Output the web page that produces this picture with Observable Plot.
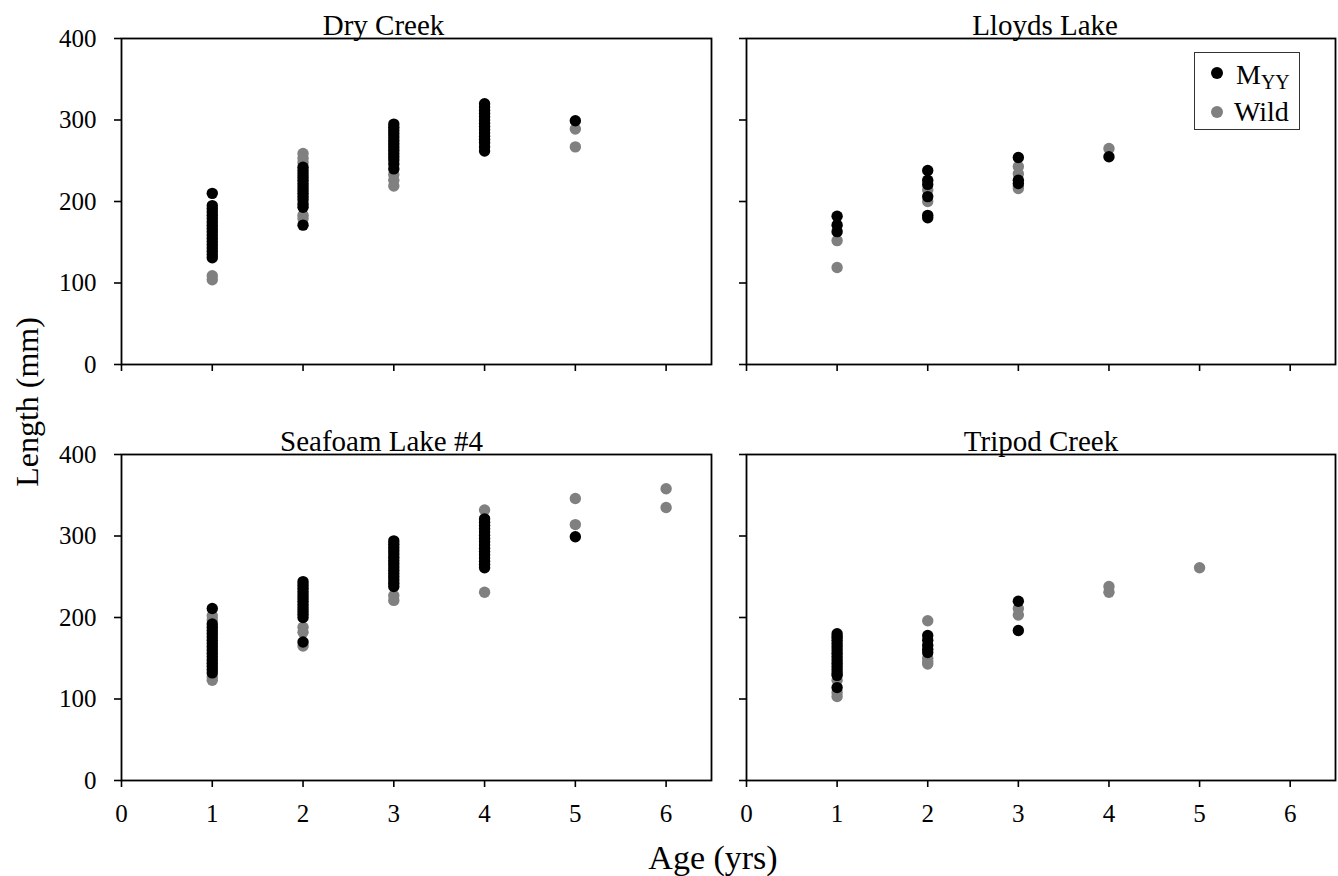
<!DOCTYPE html>
<html>
<head>
<meta charset="utf-8">
<script src="https://cdn.jsdelivr.net/npm/d3@7"></script>
<script src="https://cdn.jsdelivr.net/npm/@observablehq/plot@0.6"></script>
<style>
  html, body { margin: 0; padding: 0; background: white; }
  #chart { position: relative; width: 1338px; height: 876px; font-family: "Liberation Serif", "Times New Roman", serif; color: black; }
  #chart > div.panel { position: absolute; }
  .lbl { position: absolute; white-space: nowrap; line-height: 1; }
  #legend { position: absolute; left: 1194px; top: 52px; width: 106px; height: 78px; border: 1.3px solid #333; background: white; box-sizing: border-box; }
  #legend .dot { position: absolute; width: 12px; height: 12px; border-radius: 50%; }
  #legend .txt { position: absolute; font-size: 28px; line-height: 1; white-space: nowrap; }
  #legend sub { font-size: 20px; vertical-align: -5px; }
</style>
</head>
<body>
<div id="chart"></div>
<script>
// ---------- Data: [age (yrs), length (mm)] ----------
const panelTitles = ["Dry Creek", "Lloyds Lake", "Seafoam Lake #4", "Tripod Creek"];
const groups = ["MYY", "Wild"];
const xTicks = [0, 1, 2, 3, 4, 5, 6];
const yTicks = [0, 100, 200, 300, 400];

const dryCreekMyy = [
  [1,210],[1,195],[1,191],[1,187],[1,183],[1,179],[1,175],[1,171],[1,167],[1,163],[1,159],[1,155],[1,151],[1,147],[1,143],[1,139],[1,135],[1,131],
  [2,242],[2,238],[2,234],[2,230],[2,226],[2,222],[2,218],[2,214],[2,210],[2,206],[2,202],[2,197],[2,193],[2,171],
  [3,295],[3,291],[3,287],[3,283],[3,279],[3,275],[3,271],[3,267],[3,263],[3,259],[3,255],[3,251],[3,246],[3,240],
  [4,320],[4,316],[4,312],[4,308],[4,304],[4,300],[4,296],[4,292],[4,288],[4,284],[4,280],[4,276],[4,272],[4,267],[4,262],
  [5,299]
];
const dryCreekWild = [
  [1,109],[1,104],
  [2,259],[2,253],[2,248],[2,183],[2,179],
  [3,233],[3,226],[3,219],
  [5,289],[5,267]
];
const lloydsLakeMyy = [
  [1,182],[1,171],[1,163],
  [2,238],[2,226],[2,221],[2,206],[2,183],[2,180],
  [3,254],[3,226],[3,222],
  [4,255]
];
const lloydsLakeWild = [
  [1,152],[1,119],
  [2,214],[2,200],
  [3,243],[3,234],[3,219],[3,216],
  [4,265]
];
const seafoamMyy = [
  [1,211],[1,192],[1,188],[1,184],[1,180],[1,176],[1,172],[1,168],[1,164],[1,160],[1,156],[1,152],[1,148],[1,144],[1,140],[1,136],[1,132],
  [2,244],[2,240],[2,236],[2,232],[2,228],[2,224],[2,220],[2,216],[2,212],[2,208],[2,204],[2,200],[2,170],
  [3,294],[3,290],[3,286],[3,282],[3,278],[3,274],[3,270],[3,266],[3,262],[3,258],[3,254],[3,250],[3,246],[3,242],[3,238],
  [4,321],[4,317],[4,313],[4,309],[4,305],[4,301],[4,297],[4,293],[4,289],[4,285],[4,281],[4,277],[4,273],[4,269],[4,265],[4,261],
  [5,299]
];
const seafoamWild = [
  [1,202],[1,197],[1,127],[1,123],
  [2,188],[2,182],[2,165],
  [3,227],[3,221],
  [4,332],[4,231],
  [5,346],[5,314],
  [6,358],[6,335]
];
const tripodMyy = [
  [1,180],[1,176],[1,172],[1,168],[1,164],[1,160],[1,156],[1,152],[1,148],[1,144],[1,140],[1,136],[1,132],[1,129],[1,114],
  [2,178],[2,172],[2,166],[2,161],[2,157],
  [3,220],[3,184]
];
const tripodWild = [
  [1,176],[1,123],[1,108],[1,103],
  [2,196],[2,150],[2,146],[2,143],
  [3,211],[3,203],
  [4,238],[4,231],
  [5,261]
];

const colors = {MYY: "#000000", Wild: "#808080"};

function rows(pairs, group) { return pairs.map(([age, len]) => ({age, len, group})); }

// ---------- Layout ----------
const panels = [
  {title: panelTitles[0], myy: dryCreekMyy, wild: dryCreekWild, left: 0,   top: 0,   width: 728, height: 409, mL: 121, mR: 17, mT: 38, mB: 45, yLab: true,  xLab: false, tdx: -33},
  {title: panelTitles[1], myy: lloydsLakeMyy, wild: lloydsLakeWild, left: 728, top: 0,   width: 610, height: 409, mL: 18,  mR: 3,  mT: 38, mB: 45, yLab: false, xLab: false, tdx: 4},
  {title: panelTitles[2], myy: seafoamMyy, wild: seafoamWild, left: 0,   top: 409, width: 728, height: 467, mL: 121, mR: 17, mT: 45, mB: 96, yLab: true,  xLab: true,  tdx: -35},
  {title: panelTitles[3], myy: tripodMyy, wild: tripodWild, left: 728, top: 409, width: 610, height: 467, mL: 18,  mR: 3,  mT: 45, mB: 96, yLab: false, xLab: true,  tdx: 0}
];

const chart = document.getElementById("chart");
const blank = () => "";

for (const p of panels) {
  const wildRows = rows(p.wild, groups[1]);
  const myyRows = rows(p.myy, groups[0]);
  const plot = Plot.plot({
    width: p.width,
    height: p.height,
    marginLeft: p.mL,
    marginRight: p.mR,
    marginTop: p.mT,
    marginBottom: p.mB,
    style: {fontFamily: "'Liberation Serif', 'Times New Roman', serif", fontSize: "25px", color: "black", background: "transparent", overflow: "visible"},
    x: {domain: [0, 6.5]},
    y: {domain: [0, 400]},
    color: {domain: groups, range: [colors.MYY, colors.Wild]},
    marks: [
      Plot.dot(wildRows, {x: "age", y: "len", r: 5.7, fill: "group"}),
      Plot.dot(myyRows, {x: "age", y: "len", r: 5.7, fill: "group"}),
      Plot.frame({stroke: "black", strokeWidth: 1.8}),
      Plot.axisY(yTicks, {tickSize: 7, tickPadding: 18, strokeWidth: 1.6, label: null, tickFormat: p.yLab ? (d => d) : blank}),
      Plot.axisX(xTicks, {tickSize: 7, tickPadding: 17, strokeWidth: 1.6, label: null, tickFormat: p.xLab ? (d => d) : blank}),
      Plot.text([p.title], {frameAnchor: "top", text: d => d, lineAnchor: "bottom", dy: -4, dx: p.tdx, fontSize: 29})
    ]
  });
  const wrap = document.createElement("div");
  wrap.className = "panel";
  wrap.style.left = p.left + "px";
  wrap.style.top = p.top + "px";
  wrap.appendChild(plot);
  chart.appendChild(wrap);
}

// Axis titles
const yl = document.createElement("div");
yl.className = "lbl";
yl.textContent = "Length (mm)";
yl.style.fontSize = "32px";
yl.style.left = "27px";
yl.style.top = "402px";
yl.style.transform = "translate(-50%, -50%) rotate(-90deg)";
chart.appendChild(yl);

const xl = document.createElement("div");
xl.className = "lbl";
xl.textContent = "Age (yrs)";
xl.style.fontSize = "34px";
xl.style.left = "713px";
xl.style.top = "858px";
xl.style.transform = "translate(-50%, -50%)";
chart.appendChild(xl);

// Legend
const legend = document.createElement("div");
legend.id = "legend";
legend.innerHTML =
  `<div class="dot" style="left:16px;top:14px;background:${colors.MYY}"></div>` +
  `<div class="txt" style="left:41px;top:8px">M<sub>YY</sub></div>` +
  `<div class="dot" style="left:16px;top:53px;background:${colors.Wild}"></div>` +
  `<div class="txt" style="left:39px;top:45px">Wild</div>`;
chart.appendChild(legend);
</script>
</body>
</html>
